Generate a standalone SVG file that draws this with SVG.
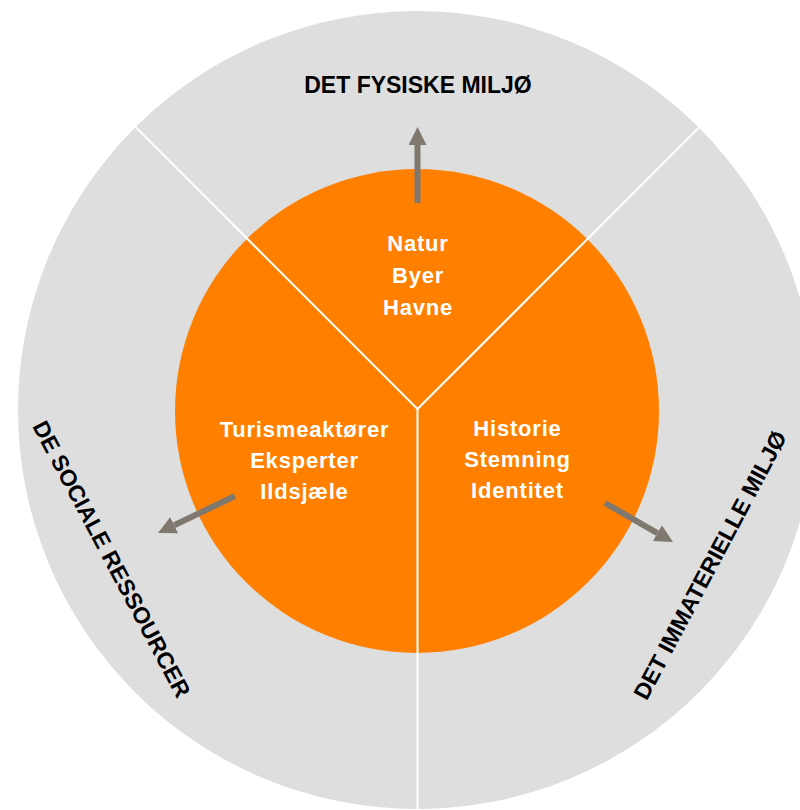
<svg xmlns="http://www.w3.org/2000/svg" width="800" height="810" viewBox="0 0 800 810">
  <style>
    .outer { fill: #dedede; }
    .inner { fill: #ff7f00; }
    .divider { stroke: #ffffff; stroke-width: 2; fill: none; }
    .arrow { stroke: #7f786f; stroke-width: 6; fill: none; }
    .label { font-family: "Liberation Sans", Arial, sans-serif; font-weight: 700; font-size: 22px; letter-spacing: 0.8px; fill: #ffffff; text-anchor: middle; }
    .sector { font-family: "Liberation Sans", Arial, sans-serif; font-weight: 700; font-size: 23px; fill: #000000; text-anchor: middle; }
  </style>
  <defs>
    <marker id="head" markerUnits="userSpaceOnUse" markerWidth="18" markerHeight="18" refX="0" refY="9" orient="auto" viewBox="0 0 18 18">
      <path d="M0,0 L18,9 L0,18 z" fill="#7f786f"/>
    </marker>
  </defs>

  <g id="outer-ring">
    <circle class="outer" cx="417" cy="410" r="399"/>
  </g>
  <g id="core">
    <circle class="inner" cx="417" cy="411" r="242"/>
  </g>

  <g id="dividers">
    <line class="divider" x1="417.5" y1="409" x2="135.4" y2="126.9"/>
    <line class="divider" x1="417.5" y1="409" x2="699.6" y2="126.9"/>
    <line class="divider" x1="417.5" y1="409" x2="417.5" y2="810"/>
  </g>

  <g id="connectors">
    <line class="arrow" x1="417.5" y1="203" x2="417.5" y2="145" marker-end="url(#head)"/>
    <line class="arrow" x1="235" y1="496" x2="174.2" y2="525.2" marker-end="url(#head)"/>
    <line class="arrow" x1="605" y1="503" x2="657.4" y2="533.1" marker-end="url(#head)"/>
  </g>

  <g id="node-physical">
    <text class="label" x="418" y="251">Natur</text>
    <text class="label" x="418" y="283">Byer</text>
    <text class="label" x="418" y="315">Havne</text>
  </g>
  <g id="node-social">
    <text class="label" x="304.5" y="437">Turismeaktører</text>
    <text class="label" x="304.5" y="468">Eksperter</text>
    <text class="label" x="304.5" y="499">Ildsjæle</text>
  </g>
  <g id="node-immaterial">
    <text class="label" x="517.5" y="436">Historie</text>
    <text class="label" x="517.5" y="467">Stemning</text>
    <text class="label" x="517.5" y="498">Identitet</text>
  </g>

  <g id="sector-physical">
    <text class="sector" x="418" y="93">DET FYSISKE MILJØ</text>
  </g>
  <g id="sector-social">
    <text class="sector" transform="translate(111.7,559) rotate(62)" x="0" y="8">DE SOCIALE RESSOURCER</text>
  </g>
  <g id="sector-immaterial">
    <text class="sector" transform="translate(710,565) rotate(-62)" x="0" y="8">DET IMMATERIELLE MILJØ</text>
  </g>
</svg>
